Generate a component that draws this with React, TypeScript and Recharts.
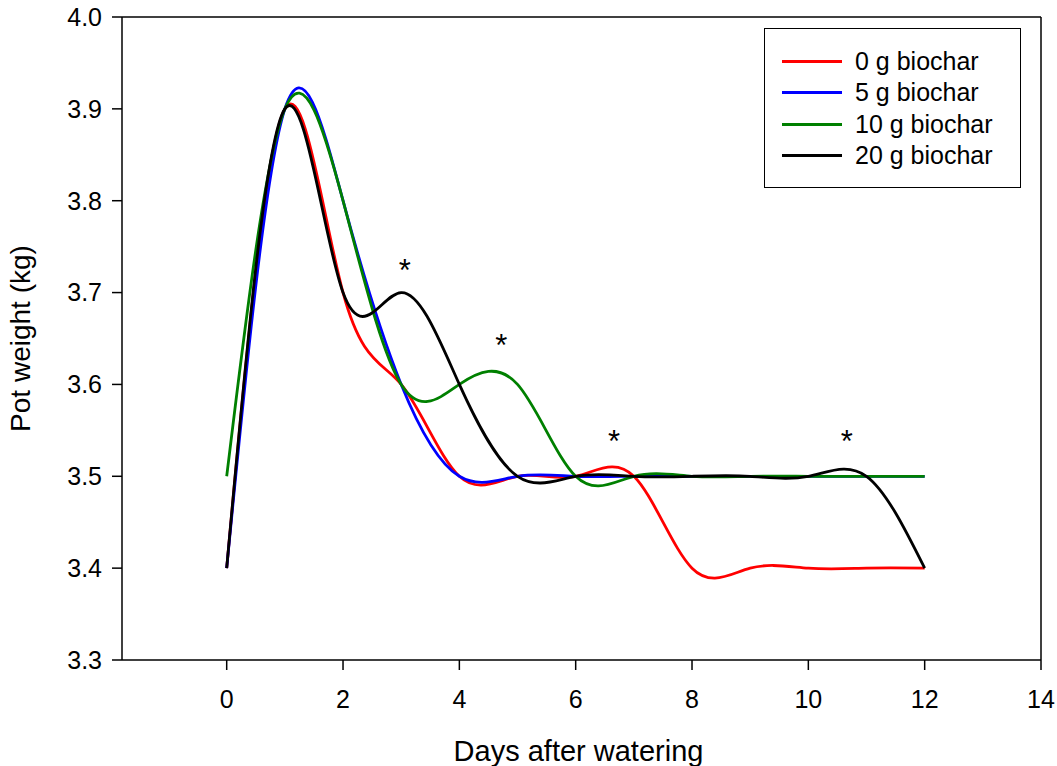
import React from 'react';
import {
  LineChart,
  Line,
  XAxis,
  YAxis,
  ReferenceLine,
  ReferenceDot,
} from 'recharts';

const days = [0, 1, 2, 3, 4, 5, 6, 7, 8, 9, 10, 11, 12];
const biochar0 = [3.4, 3.9, 3.7, 3.6, 3.5, 3.5, 3.5, 3.5, 3.4, 3.4, 3.4, 3.4, 3.4];
const biochar5 = [3.4, 3.9, 3.8, 3.6, 3.5, 3.5, 3.5, 3.5, 3.5, 3.5, 3.5, 3.5, 3.5];
const biochar10 = [3.5, 3.9, 3.8, 3.6, 3.6, 3.6, 3.5, 3.5, 3.5, 3.5, 3.5, 3.5, 3.5];
const biochar20 = [3.4, 3.9, 3.7, 3.7, 3.6, 3.5, 3.5, 3.5, 3.5, 3.5, 3.5, 3.5, 3.4];

// significance markers
const starDays = [3.06, 4.72, 6.66, 10.66];
const starValues = [3.731, 3.649, 3.545, 3.545];

const xTicks = [0, 2, 4, 6, 8, 10, 12, 14];
const yTicks = [3.3, 3.4, 3.5, 3.6, 3.7, 3.8, 3.9, 4.0];

const series = [
  { key: 'b0', name: '0 g biochar', color: '#ff0000', values: biochar0 },
  { key: 'b5', name: '5 g biochar', color: '#0000ff', values: biochar5 },
  { key: 'b10', name: '10 g biochar', color: '#008000', values: biochar10 },
  { key: 'b20', name: '20 g biochar', color: '#000000', values: biochar20 },
];

const data = days.map((day, i) => {
  const row: any = { day };
  series.forEach((s) => {
    row[s.key] = s.values[i];
  });
  return row;
});

const FONT = 'Arial, "Liberation Sans", sans-serif';
const TICK_SIZE = 25;

// legend drawn as an overlay so it doesn't take space from the plot
const LegendBox = () => (
  <div
    style={{
      position: 'absolute',
      left: 764,
      top: 28,
      border: '1.5px solid #000',
      background: '#fff',
      width: 257,
      height: 160,
      boxSizing: 'border-box',
      paddingTop: 17,
      fontFamily: FONT,
    }}
  >
    {series.map((s) => (
      <div
        key={s.key}
        style={{ display: 'flex', alignItems: 'center', height: 31.3 }}
      >
        <div
          style={{
            marginLeft: 17,
            width: 60,
            height: 3,
            background: s.color,
          }}
        />
        <span style={{ marginLeft: 13, fontSize: 25, color: '#000' }}>
          {s.name}
        </span>
      </div>
    ))}
  </div>
);

const Star = (props: any) => (
  <text
    x={props.cx}
    y={props.cy}
    dy="0.55em"
    textAnchor="middle"
    fontSize={31}
    fontFamily={FONT}
    fill="#000"
  >
    *
  </text>
);

const XTick = (props: any) => {
  const { x, y, payload } = props;
  return (
    <text
      x={x}
      y={y}
      dy="0.71em"
      textAnchor="middle"
      fontSize={TICK_SIZE}
      fontFamily={FONT}
      fill="#000"
    >
      {payload.value}
    </text>
  );
};

const YTick = (props: any) => {
  const { x, y, payload } = props;
  return (
    <text
      x={x}
      y={y}
      dy="0.355em"
      textAnchor="end"
      fontSize={TICK_SIZE}
      fontFamily={FONT}
      fill="#000"
    >
      {Number(payload.value).toFixed(1)}
    </text>
  );
};

export default function App() {
  return (
    <div
      style={{
        position: 'absolute',
        left: 0,
        top: 0,
        width: 1057,
        height: 766,
        background: '#fff',
      }}
    >
      <LineChart
        width={1057}
        height={766}
        data={data}
        margin={{ top: 17, right: 16, left: 0, bottom: 0 }}
      >
        <XAxis
          dataKey="day"
          type="number"
          domain={[-1.8, 14]}
          ticks={xTicks}
          allowDataOverflow
          height={106}
          stroke="#000"
          strokeWidth={1.5}
          tickSize={10}
          tickMargin={20}
          tick={<XTick />}
          label={{
            value: 'Days after watering',
            position: 'insideBottom',
            offset: 5,
            dx: -3,
            fill: '#000',
            fontSize: 29,
            fontFamily: FONT,
          }}
        />
        <YAxis
          type="number"
          domain={[3.3, 4.0]}
          ticks={yTicks}
          allowDataOverflow
          width={122}
          stroke="#000"
          strokeWidth={1.5}
          tickSize={10}
          tickMargin={10}
          tick={<YTick />}
          label={{
            value: 'Pot weight (kg)',
            angle: -90,
            position: 'insideLeft',
            offset: 20,
            fill: '#000',
            fontSize: 28,
            fontFamily: FONT,
            style: { textAnchor: 'middle' },
          }}
        />
        <ReferenceLine y={4.0} stroke="#000" strokeWidth={1.5} />
        <ReferenceLine x={14} stroke="#000" strokeWidth={1.5} />
        {series.map((s) => (
          <Line
            key={s.key}
            type="natural"
            dataKey={s.key}
            name={s.name}
            stroke={s.color}
            strokeWidth={2.8}
            dot={false}
            activeDot={false}
            isAnimationActive={false}
          />
        ))}
        {starDays.map((d, i) => (
          <ReferenceDot
            key={`star-${i}`}
            x={d}
            y={starValues[i]}
            r={0}
            shape={Star}
          />
        ))}
      </LineChart>
      <LegendBox />
    </div>
  );
}
